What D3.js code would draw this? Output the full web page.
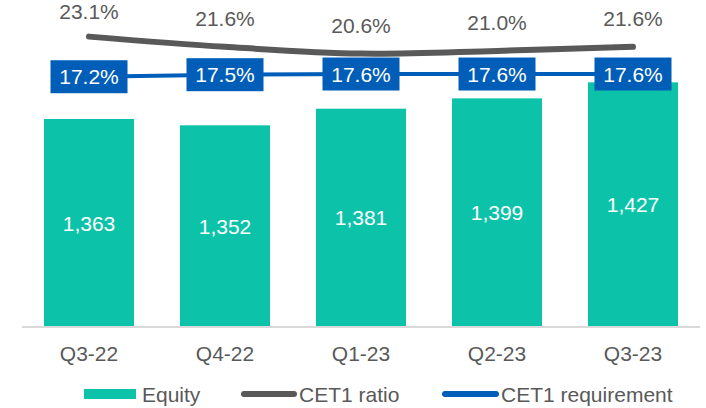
<!DOCTYPE html>
<html>
<head>
<meta charset="utf-8">
<script src="https://cdn.jsdelivr.net/npm/d3@7"></script>
<style>
  body { margin: 0; background: #fff; }
  svg text { font-family: "Liberation Sans", Arial, sans-serif; }
</style>
</head>
<body>
<div id="chart"></div>
<script>
var quarters = ["Q3-22", "Q4-22", "Q1-23", "Q2-23", "Q3-23"];
var equity = [1363, 1352, 1381, 1399, 1427];
var cet1Ratio = [23.1, 21.6, 20.6, 21.0, 21.6];
var cet1Req = [17.2, 17.5, 17.6, 17.6, 17.6];
var legendNames = ["Equity", "CET1 ratio", "CET1 requirement"];

var W = 706, H = 408;
var teal = "#0cc3a9", grey = "#595959", blue = "#005eb8";

var svg = d3.select("#chart").append("svg")
    .attr("width", W).attr("height", H);

var x = d3.scaleBand()
    .domain(quarters)
    .range([21, 701])
    .paddingInner(0.338)
    .paddingOuter(0.169);

// primary axis (equity), not drawn
var y = d3.scaleLinear().domain([1000, 1600]).range([327, 327 - 600 * 0.573]);
// secondary axis (ratios), not drawn
var y2 = d3.scaleLinear().domain([16, 24]).range([84.9, 30.5]);

var cx = function(i) { return x(quarters[i]) + x.bandwidth() / 2; };

// bars
svg.append("g").selectAll("rect")
    .data(equity)
  .enter().append("rect")
    .attr("x", function(d, i) { return x(quarters[i]); })
    .attr("y", function(d) { return y(d); })
    .attr("width", x.bandwidth())
    .attr("height", function(d) { return y(1000) - y(d); })
    .attr("fill", teal);

svg.append("g").selectAll("text")
    .data(equity)
  .enter().append("text")
    .attr("x", function(d, i) { return cx(i); })
    .attr("y", function(d) { return (y(d) + y(1000)) / 2 + 7.5; })
    .attr("text-anchor", "middle")
    .attr("font-size", 21)
    .attr("fill", "#fff")
    .text(function(d) { return d3.format(",")(d); });

// category axis
var xAxis = svg.append("g")
    .attr("transform", "translate(0,327)")
    .call(d3.axisBottom(x).tickSize(0).tickPadding(0));
xAxis.select(".domain").attr("d", "M22,0H700").attr("stroke", "#d9d9d9").attr("stroke-width", 2);
xAxis.selectAll(".tick text")
    .attr("dy", null)
    .attr("y", 34)
    .attr("font-size", 21)
    .attr("font-family", "Liberation Sans, Arial, sans-serif")
    .attr("fill", grey);

// CET1 ratio line
var ratioLine = d3.line()
    .x(function(d, i) { return cx(i); })
    .y(function(d) { return y2(d); })
    .curve(d3.curveCatmullRom.alpha(0.5));

svg.append("path")
    .datum(cet1Ratio)
    .attr("d", ratioLine)
    .attr("fill", "none")
    .attr("stroke", grey)
    .attr("stroke-width", 6)
    .attr("stroke-linecap", "round");

svg.append("g").selectAll("text")
    .data(cet1Ratio)
  .enter().append("text")
    .attr("x", function(d, i) { return cx(i); })
    .attr("y", function(d) { return Math.max(y2(d) - 21, 19); })
    .attr("text-anchor", "middle")
    .attr("font-size", 21)
    .attr("fill", grey)
    .text(function(d) { return d.toFixed(1) + "%"; });

// CET1 requirement line
var reqLine = d3.line()
    .x(function(d, i) { return cx(i); })
    .y(function(d) { return y2(d); });

svg.append("path")
    .datum(cet1Req)
    .attr("d", reqLine)
    .attr("fill", "none")
    .attr("stroke", blue)
    .attr("stroke-width", 4);

var boxes = svg.append("g").selectAll("g")
    .data(cet1Req)
  .enter().append("g")
    .attr("transform", function(d, i) { return "translate(" + cx(i) + "," + y2(d) + ")"; });
boxes.append("rect")
    .attr("x", -38.5).attr("y", -16.5)
    .attr("width", 77).attr("height", 33)
    .attr("fill", blue);
boxes.append("text")
    .attr("text-anchor", "middle")
    .attr("y", 7.5)
    .attr("font-size", 21)
    .attr("fill", "#fff")
    .text(function(d) { return d.toFixed(1) + "%"; });

// legend
var legend = svg.append("g").attr("transform", "translate(0,394)");
legend.append("rect")
    .attr("x", 84).attr("y", -5).attr("width", 52).attr("height", 10)
    .attr("fill", teal);
legend.append("line")
    .attr("x1", 244).attr("x2", 294).attr("y1", 0).attr("y2", 0)
    .attr("stroke", grey).attr("stroke-width", 6).attr("stroke-linecap", "round");
legend.append("line")
    .attr("x1", 445).attr("x2", 496).attr("y1", 0).attr("y2", 0)
    .attr("stroke", blue).attr("stroke-width", 6).attr("stroke-linecap", "round");
var legendX = [142, 299, 501];
legend.selectAll("text")
    .data(legendNames)
  .enter().append("text")
    .attr("x", function(d, i) { return legendX[i]; })
    .attr("y", 7.5)
    .attr("font-size", 21)
    .attr("fill", grey)
    .text(function(d) { return d; });
</script>
</body>
</html>
